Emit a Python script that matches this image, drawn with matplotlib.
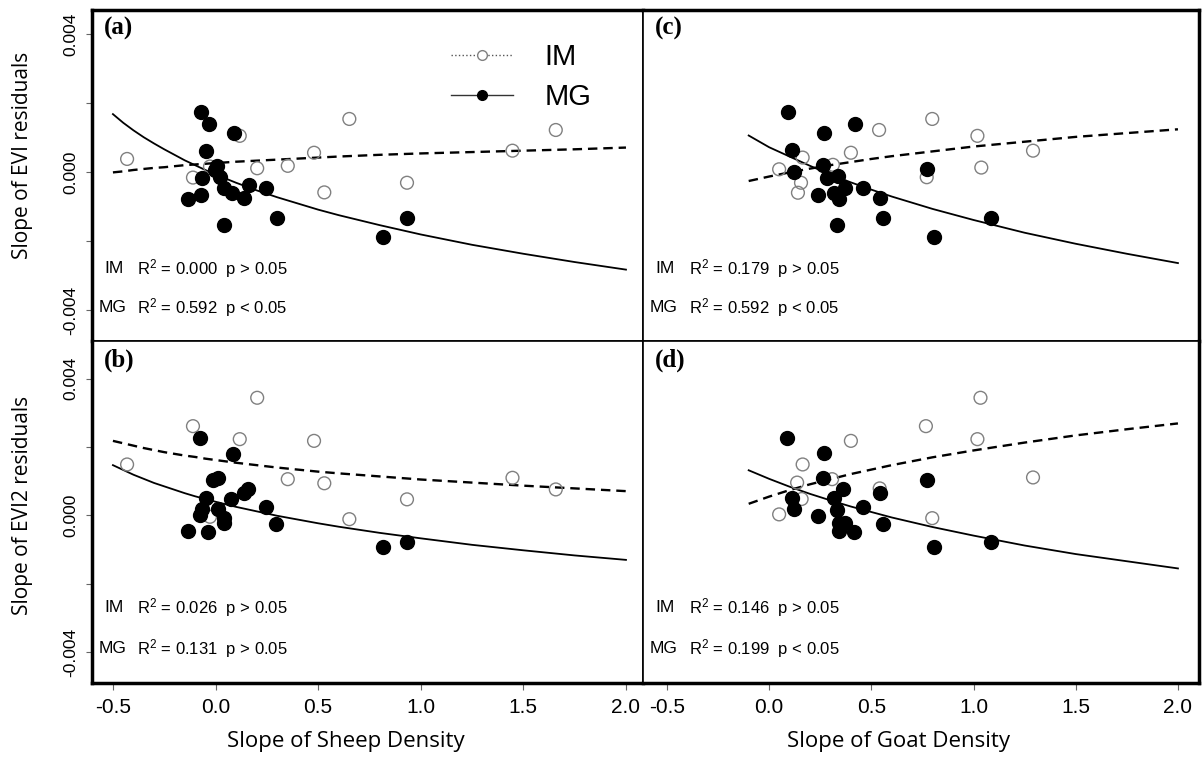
import numpy as np
import matplotlib.pyplot as plt
from matplotlib.lines import Line2D

plt.rcParams['font.family'] = ['Liberation Sans', 'DejaVu Sans']
plt.rcParams['mathtext.default'] = 'regular'

# y values are in units of 1e-3

# (a) EVI residual slope vs sheep density slope
a_im_x = [-0.431, -0.110, -0.027, 0.118, 0.203, 0.352, 0.480, 0.530, 0.652, 0.933, 1.447, 1.658]
a_im_y = [0.38, -0.16, 0.16, 1.05, 0.11, 0.18, 0.56, -0.59, 1.54, -0.31, 0.62, 1.22]
a_mg_x = [-0.072, -0.032, 0.088, -0.047, 0.006, -0.002, -0.068, 0.022, 0.039, 0.080,
          0.137, 0.162, 0.245, -0.135, -0.072, 0.042, 0.299, 0.818, 0.933]
a_mg_y = [1.75, 1.39, 1.14, 0.62, 0.19, 0.06, -0.18, -0.13, -0.47, -0.60,
          -0.76, -0.37, -0.45, -0.79, -0.66, -1.55, -1.34, -1.87, -1.34]

# (b) EVI2 residual slope vs sheep density slope
b_im_x = a_im_x
b_im_y = [1.49, 2.61, -0.04, 2.23, 3.44, 1.06, 2.18, 0.94, -0.11, 0.47, 1.10, 0.76]
b_mg_x = [-0.074, 0.085, -0.011, 0.011, -0.047, 0.077, 0.137, 0.159, 0.245, -0.068,
          0.014, -0.074, 0.039, 0.039, -0.135, -0.036, 0.297, 0.818, 0.933]
b_mg_y = [2.25, 1.80, 1.04, 1.08, 0.50, 0.48, 0.65, 0.77, 0.24, 0.19,
          0.19, 0.01, -0.08, -0.23, -0.46, -0.48, -0.26, -0.93, -0.79]

# (c) EVI residual slope vs goat density slope
c_im_x = [0.538, 0.798, 1.019, 0.400, 0.164, 0.049, 0.312, 0.156, 0.141, 1.291, 0.771, 1.038]
c_im_y = [1.22, 1.54, 1.05, 0.56, 0.42, 0.08, 0.21, -0.31, -0.60, 0.62, -0.15, 0.13]
c_mg_x = [0.091, 0.418, 0.269, 0.110, 0.124, 0.266, 0.284, 0.339, 0.370, 0.459,
          0.238, 0.315, 0.344, 0.541, 0.330, 0.556, 0.774, 0.808, 1.084]
c_mg_y = [1.75, 1.39, 1.13, 0.64, 0.01, 0.21, -0.18, -0.11, -0.47, -0.45,
          -0.68, -0.60, -0.79, -0.74, -1.55, -1.34, 0.08, -1.87, -1.34]

# (d) EVI2 residual slope vs goat density slope
d_im_x = [1.034, 0.767, 1.019, 0.400, 0.164, 0.137, 0.308, 0.541, 0.159, 0.049, 0.798, 1.291]
d_im_y = [3.44, 2.61, 2.23, 2.18, 1.49, 0.96, 1.06, 0.79, 0.48, 0.03, -0.08, 1.11]
d_mg_x = [0.088, 0.269, 0.266, 0.110, 0.124, 0.361, 0.317, 0.541, 0.774, 0.459,
          0.238, 0.330, 0.344, 0.372, 0.344, 0.416, 0.556, 0.808, 1.084]
d_mg_y = [2.27, 1.82, 1.08, 0.52, 0.18, 0.77, 0.50, 0.65, 1.04, 0.24,
          -0.01, 0.16, -0.23, -0.21, -0.46, -0.48, -0.25, -0.93, -0.79]

# fitted curves
sheep_fit_x = [-0.5, -0.45, -0.4, -0.35, -0.3, -0.25, -0.2, -0.15, -0.1, -0.05, 0.0,
               0.1, 0.2, 0.3, 0.4, 0.5, 0.6, 0.8, 1.0, 1.25, 1.5, 1.75, 2.0]
a_im_fit_y = [-0.01, 0.02, 0.06, 0.09, 0.12, 0.14, 0.17, 0.20, 0.22, 0.24, 0.26,
              0.30, 0.33, 0.36, 0.39, 0.42, 0.45, 0.50, 0.54, 0.58, 0.62, 0.66, 0.71]
a_mg_fit_y = [1.68, 1.43, 1.21, 1.01, 0.83, 0.66, 0.50, 0.34, 0.20, 0.06, -0.07,
              -0.31, -0.53, -0.73, -0.91, -1.09, -1.25, -1.54, -1.81, -2.11, -2.37, -2.61, -2.83]
b_im_fit_y = [2.18, 2.11, 2.04, 1.97, 1.91, 1.85, 1.80, 1.75, 1.71, 1.66, 1.62,
              1.54, 1.47, 1.40, 1.34, 1.28, 1.23, 1.14, 1.05, 0.96, 0.87, 0.79, 0.71]
b_mg_fit_y = [1.47, 1.33, 1.19, 1.07, 0.95, 0.85, 0.75, 0.65, 0.56, 0.48, 0.40,
              0.25, 0.12, -0.01, -0.12, -0.23, -0.33, -0.51, -0.67, -0.86, -1.02, -1.17, -1.30]

goat_fit_x = [-0.1, 0.0, 0.1, 0.2, 0.3, 0.4, 0.5, 0.6, 0.8, 1.0, 1.25, 1.5, 1.75, 2.0]
c_im_fit_y = [-0.26, -0.13, -0.01, 0.10, 0.20, 0.29, 0.38, 0.46, 0.60, 0.74, 0.88, 1.02, 1.13, 1.24]
c_mg_fit_y = [1.06, 0.72, 0.45, 0.18, -0.07, -0.30, -0.51, -0.71, -1.07, -1.39, -1.76, -2.08, -2.37, -2.64]
d_im_fit_y = [0.34, 0.55, 0.74, 0.91, 1.06, 1.21, 1.34, 1.47, 1.70, 1.90, 2.13, 2.34, 2.52, 2.69]
d_mg_fit_y = [1.32, 1.07, 0.84, 0.63, 0.44, 0.26, 0.10, -0.06, -0.34, -0.59, -0.88, -1.13, -1.34, -1.55]

labels = ['(a)', '(b)', '(c)', '(d)']
stats_im = ['0.000  p > 0.05', '0.026  p > 0.05', '0.179  p > 0.05', '0.146  p > 0.05']
stats_mg = ['0.592  p < 0.05', '0.131  p > 0.05', '0.592  p < 0.05', '0.199  p < 0.05']
x_ticks = [-0.5, 0.0, 0.5, 1.0, 1.5, 2.0]
y_ticks = [-0.004, -0.002, 0.0, 0.002, 0.004]
y_tick_labels = ['-0.004', '', '0.000', '', '0.004']

panels = [
    (a_im_x, a_im_y, a_mg_x, a_mg_y, sheep_fit_x, a_im_fit_y, a_mg_fit_y),
    (b_im_x, b_im_y, b_mg_x, b_mg_y, sheep_fit_x, b_im_fit_y, b_mg_fit_y),
    (c_im_x, c_im_y, c_mg_x, c_mg_y, goat_fit_x, c_im_fit_y, c_mg_fit_y),
    (d_im_x, d_im_y, d_mg_x, d_mg_y, goat_fit_x, d_im_fit_y, d_mg_fit_y),
]

W, H = 1204, 758
fig = plt.figure(figsize=(W / 100, H / 100), dpi=100)
cols = [(92, 551, (-0.602, 2.083)), (643, 556, (-0.617, 2.103))]
rows = [(10, 331, (-0.0049, 0.0047)), (341, 342, (-0.0049, 0.0051))]

for i, data in enumerate(panels):
    c, r = i // 2, i % 2
    x0, w, xlim = cols[c]
    y0, h, ylim = rows[r]
    ax = fig.add_axes([x0 / W, 1 - (y0 + h) / H, w / W, h / H])
    im_x, im_y, mg_x, mg_y, fit_x, imf_y, mgf_y = data

    ax.plot(fit_x, np.array(imf_y) * 1e-3, color='black', lw=1.7, ls=(0, (4, 2.5)))
    ax.plot(fit_x, np.array(mgf_y) * 1e-3, color='black', lw=1.3)
    ax.scatter(im_x, np.array(im_y) * 1e-3, s=85, facecolors='none',
               edgecolors='#808080', linewidths=1.0, zorder=3)
    ax.scatter(mg_x, np.array(mg_y) * 1e-3, s=100, color='black', zorder=4)

    ax.set_xlim(*xlim)
    ax.set_ylim(*ylim)

    # frame: heavy outside, lighter on shared edges
    ax.spines['left'].set_linewidth(2.5 if c == 0 else 1.2)
    ax.spines['right'].set_linewidth(2.5 if c == 1 else 1.2)
    ax.spines['top'].set_linewidth(2.5 if r == 0 else 1.2)
    ax.spines['bottom'].set_linewidth(2.5 if r == 1 else 1.2)

    if c == 0:
        ax.set_yticks(y_ticks)
        ax.set_yticklabels(y_tick_labels, rotation=90, va='center')
        ax.tick_params(axis='y', length=4, color='#666666', pad=6, labelsize=12.5)
        ax.set_ylabel('Slope of EVI residuals' if r == 0 else 'Slope of EVI2 residuals',
                      family='Open Sans', fontsize=15)
        ax.yaxis.set_label_coords(-0.107, 0.56 if r == 0 else 0.52)
    else:
        ax.set_yticks([])
    if r == 1:
        ax.set_xticks(x_ticks)
        ax.set_xticklabels(['%.1f' % t for t in x_ticks])
        ax.tick_params(axis='x', length=5, color='#666666', pad=6, labelsize=15)
        ax.set_xlabel('Slope of Sheep Density' if c == 0 else 'Slope of Goat Density',
                      family='Open Sans', fontsize=16)
        ax.xaxis.set_label_coords(0.46, -0.14)
    else:
        ax.set_xticks([])

    ax.text(0.021, 0.978, labels[i], transform=ax.transAxes, ha='left', va='top',
            family='Liberation Serif', fontweight='bold', fontsize=18)
    for yy, grp, st, gx in [(0.22, 'IM', stats_im[i], 0.022), (0.10, 'MG', stats_mg[i], 0.012)]:
        ax.text(gx, yy, grp, transform=ax.transAxes, va='center', fontsize=12.5)
        ax.text(0.082, yy, r'$R^2$ = ' + st, transform=ax.transAxes, va='center', fontsize=12)

    if i == 0:
        handles = [
            Line2D([], [], color='#555555', lw=1.0, ls=':', marker='o', ms=7,
                   mfc='white', mec='#808080'),
            Line2D([], [], color='#333333', lw=1.0, ls='-', marker='o', ms=7,
                   mfc='black', mec='black'),
        ]
        ax.legend(handles, ['IM', 'MG'], loc='upper left', bbox_to_anchor=(0.652, 0.90),
                  frameon=False, fontsize=21, handlelength=2.1, handletextpad=1.1,
                  labelspacing=0.4, borderpad=0, borderaxespad=0)

fig.savefig('out.png', dpi=100)
